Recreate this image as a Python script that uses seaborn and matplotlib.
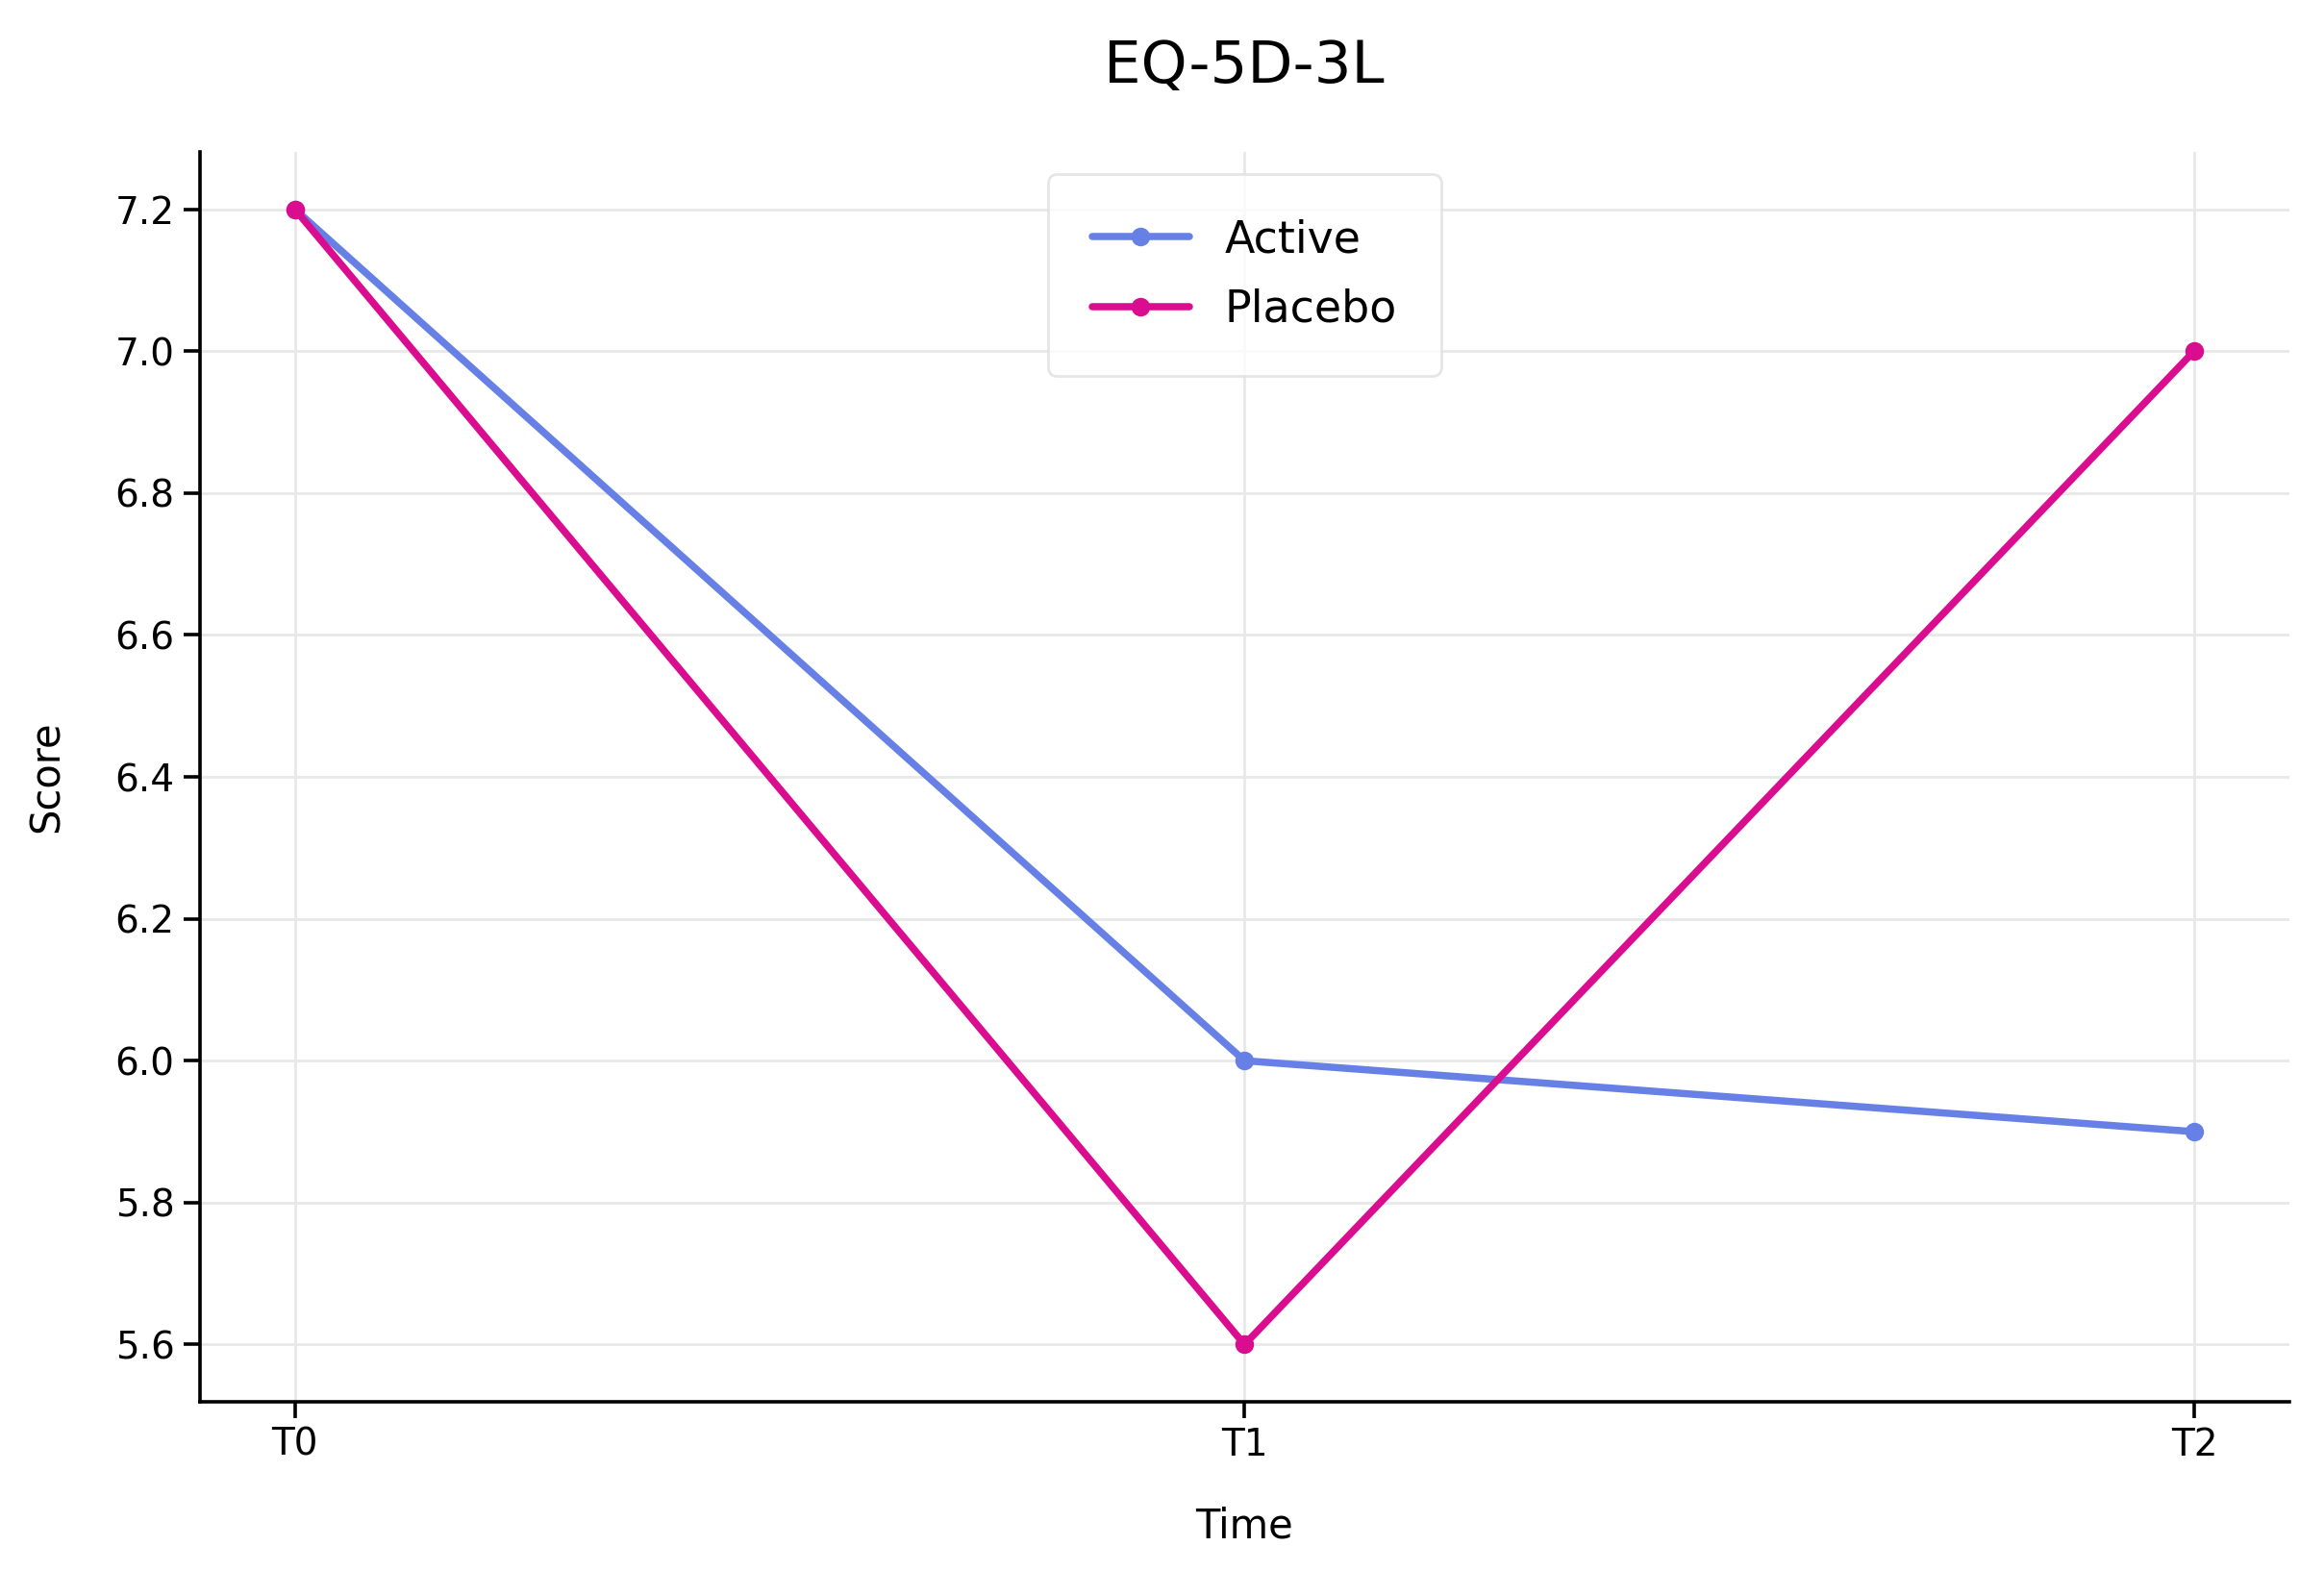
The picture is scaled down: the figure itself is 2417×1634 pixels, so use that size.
import pandas as pd
import seaborn as sns
from matplotlib import pyplot as plt

# data
times = ['T0', 'T1', 'T2']
active = [7.2, 6.0, 5.9]
placebo = [7.2, 5.6, 7.0]

df = pd.DataFrame({
    'Time': times * 2,
    'Score': active + placebo,
    'Group': ['Active'] * 3 + ['Placebo'] * 3,
})

sns.set_style('ticks')
plt.rcParams['font.family'] = ['DejaVu Sans']
plt.rcParams['text.color'] = 'black'
plt.rcParams['axes.labelcolor'] = 'black'
plt.rcParams['xtick.color'] = 'black'
plt.rcParams['ytick.color'] = 'black'
plt.rcParams['axes.edgecolor'] = 'black'

fig, ax = plt.subplots(figsize=(12.085, 8.17), dpi=200)
fig.subplots_adjust(left=0.086, right=0.985, top=0.903, bottom=0.108)

palette = {'Active': '#6780E6', 'Placebo': '#DA0C8F'}
sns.lineplot(data=df, x='Time', y='Score', hue='Group', palette=palette,
             marker='o', markersize=7, markeredgewidth=0, linewidth=2.7, ax=ax)

ax.grid(True, color='#e8e8e8', linewidth=1)
ax.set_axisbelow(True)
sns.despine(ax=ax)
for s in ['left', 'bottom']:
    ax.spines[s].set_linewidth(1.3)
ax.tick_params(labelsize=14, length=6, width=1.3)

ax.set_title('EQ-5D-3L', fontsize=22, pad=26)
ax.set_xlabel('Time', fontsize=15, labelpad=16)
ax.set_ylabel('Score', fontsize=15, labelpad=18)

leg = ax.legend(loc='upper center', fontsize=16.5, frameon=True,
                borderpad=1.0, handlelength=2.2, labelspacing=0.6)
leg.get_frame().set_edgecolor('#e0e0e0')

plt.savefig('out.png', dpi=200)
